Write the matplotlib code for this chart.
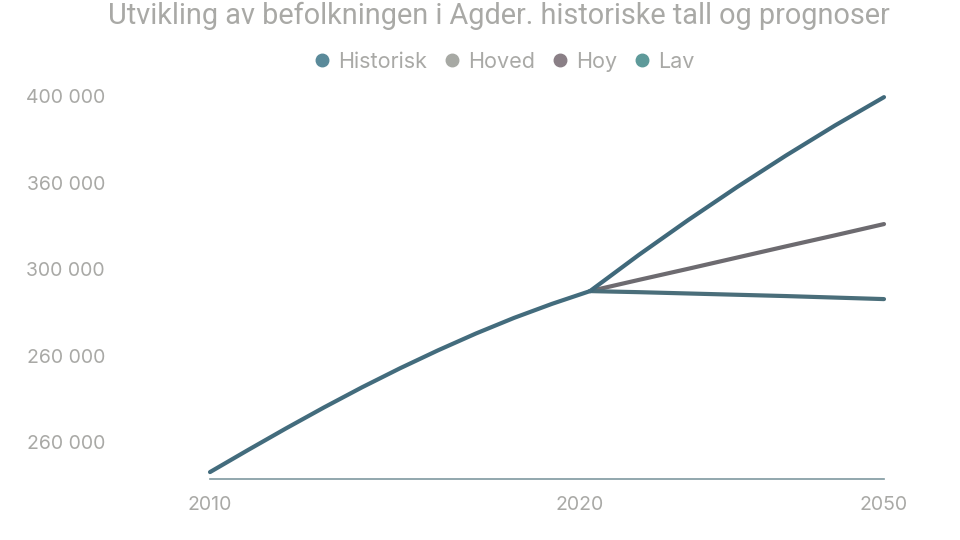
import numpy as np
import matplotlib
matplotlib.use("Agg")
import matplotlib.pyplot as plt
import matplotlib.transforms as mtransforms
from matplotlib.lines import Line2D

# data
hist_years = [2010, 2011, 2012, 2013, 2014, 2015, 2016, 2017, 2018, 2019, 2020]
hist_vals = [226100, 236300, 246300, 256000, 265300, 274100, 282400, 290200, 297400, 303900, 309800]
proj_years = [2020, 2025, 2030, 2035, 2040, 2045, 2050]
hoy_vals = [309800, 326600, 342600, 357900, 372500, 386400, 399500]
hoved_vals = [309800, 315000, 320100, 325300, 330500, 335600, 340800]
lav_vals = [309800, 309300, 308700, 308100, 307500, 306800, 306100]

ytick_vals = [240000, 280000, 320000, 360000, 400000]
ytick_labels = ["260 000", "260 000", "300 000", "360 000", "400 000"]
xtick_vals = [2010, 2020, 2050]
xtick_labels = ["2010", "2020", "2050"]

legend_names = ["Historisk", "Hoved", "Hoy", "Lav"]
legend_colors = ["#5a8a9a", "#a7a9a4", "#8a7f86", "#5e9a9a"]

gray = "#a9a9a6"


def fwd(x):
    x = np.asarray(x, dtype=float)
    return np.where(x <= 2020, (x - 2010) * 38.0, 380.0 + (x - 2020) * 9.8)


def inv(p):
    p = np.asarray(p, dtype=float)
    return np.where(p <= 380, 2010 + p / 38.0, 2020 + (p - 380.0) / 9.8)


fig = plt.figure(figsize=(9.6, 5.4), dpi=100)
ax = fig.add_axes([210 / 960, 1 - 479 / 540, 674 / 960, 389 / 540])
ax.set_xscale("function", functions=(fwd, inv))

lw = 3.0
ax.plot(proj_years, hoved_vals, color="#6d6b70", lw=lw, solid_capstyle="round",
        solid_joinstyle="round", clip_on=False)
ax.plot(proj_years, lav_vals, color="#4a6e7a", lw=lw, solid_capstyle="round",
        solid_joinstyle="round", clip_on=False)
ax.plot(proj_years, hoy_vals, color="#40697b", lw=lw, solid_capstyle="round",
        solid_joinstyle="round", clip_on=False)
ax.plot(hist_years, hist_vals, color="#436c7d", lw=lw, solid_capstyle="round",
        solid_joinstyle="round", clip_on=False)

ax.set_xlim(2010, 2050)
ax.set_ylim(222900, 402800)

ax.set_yticks(ytick_vals)
ax.set_yticklabels(ytick_labels)
ax.set_xticks(xtick_vals)
ax.set_xticklabels(xtick_labels)
ax.tick_params(axis="y", length=0, pad=75.6, labelsize=14, labelcolor=gray)
ax.tick_params(axis="x", length=0, pad=12, labelsize=14, labelcolor=gray)
for lab in ax.get_yticklabels() + ax.get_xticklabels():
    lab.set_fontfamily("Inter")

# 2020 label sits a bit left of the junction in the original
shift = mtransforms.ScaledTranslation(-10 / 100, 0, fig.dpi_scale_trans)
lab2020 = ax.get_xticklabels()[1]
lab2020.set_transform(lab2020.get_transform() + shift)

for s in ["top", "right", "left"]:
    ax.spines[s].set_visible(False)
ax.spines["bottom"].set_color("#7f98a0")
ax.spines["bottom"].set_linewidth(1.2)

fig.text(499 / 960, 1 - 16 / 540, "Utvikling av befolkningen i Agder. historiske tall og prognoser",
         ha="center", va="center", fontsize=20.8, color=gray, family="Roboto")

handles = [Line2D([], [], ls="", marker="o", markersize=9, color=c) for c in legend_colors]
leg = fig.legend(handles, legend_names, loc="center", bbox_to_anchor=(505 / 960, 1 - 62 / 540),
                 ncol=4, frameon=False, handlelength=0.6, handletextpad=0.45, columnspacing=0.85,
                 prop={"family": "Inter", "size": 15.5})
for t in leg.get_texts():
    t.set_color(gray)

fig.savefig("out.png", dpi=100)
